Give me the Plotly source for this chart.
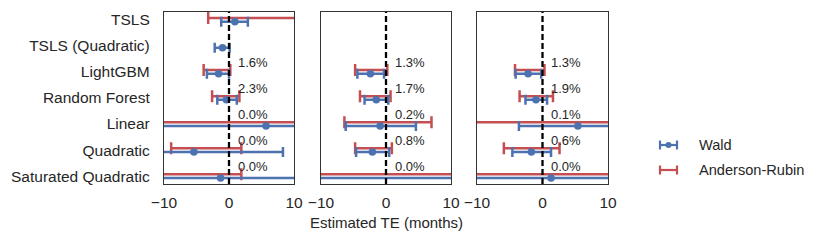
import plotly.graph_objects as go

W, H = 830, 243
OFFX, OFFY = 8, 8  # page body margin of the browser

methods = ["TSLS", "TSLS (Quadratic)", "LightGBM", "Random Forest",
           "Linear", "Quadratic", "Saturated Quadratic"]
rows = list(range(len(methods)))

# Panel 1
p1_wald_pt = [0.9, -1.0, -1.6, -0.4, 5.7, -5.4, -1.3]
p1_wald_lo = [-1.2, -2.2, -3.4, -1.8, -50, -50, -50]
p1_wald_hi = [2.9, 0.1, 0.0, 1.2, 50, 8.3, 50]
p1_ar_lo = [-3.2, None, -3.9, -2.6, -50, -8.9, -50]
p1_ar_hi = [50, None, 0.2, 1.6, 50, 1.9, 1.9]
p1_pct = [None, None, "1.6%", "2.3%", "0.0%", "0.0%", "0.0%"]

# Panel 2
p2_wald_pt = [None, None, -2.4, -1.5, -0.9, -2.1, 20]
p2_wald_lo = [None, None, -4.4, -3.3, -6.2, -4.6, -50]
p2_wald_hi = [None, None, -0.3, 0.35, 4.6, 0.5, 50]
p2_ar_lo = [None, None, -4.75, -4.0, -6.4, -4.75, -50]
p2_ar_hi = [None, None, 0.2, 0.7, 7.0, 0.9, 50]
p2_pct = [None, None, "1.3%", "1.7%", "0.2%", "0.8%", "0.0%"]

# Panel 3
p3_wald_pt = [None, None, -2.2, -1.0, 5.4, -1.7, 1.3]
p3_wald_lo = [None, None, -4.1, -2.6, -3.6, -4.6, -50]
p3_wald_hi = [None, None, -0.2, 0.7, 50, 1.3, 50]
p3_ar_lo = [None, None, -4.2, -3.5, -50, -5.9, -50]
p3_ar_hi = [None, None, 0.3, 1.6, 50, 2.6, 50]
p3_pct = [None, None, "1.3%", "1.9%", "0.1%", "0.6%", "0.0%"]

panels = [
    (p1_wald_pt, p1_wald_lo, p1_wald_hi, p1_ar_lo, p1_ar_hi, p1_pct),
    (p2_wald_pt, p2_wald_lo, p2_wald_hi, p2_ar_lo, p2_ar_hi, p2_pct),
    (p3_wald_pt, p3_wald_lo, p3_wald_hi, p3_ar_lo, p3_ar_hi, p3_pct),
]

x_ticks = [-10, 0, 10]
x_range = [-10, 10]

BLUE = "#4C72B0"
RED = "#C44E52"
TXT = "#262626"
FONT = "Arial, Liberation Sans, sans-serif"


def PX(px):
    return (px - OFFX) / W


def PY(py):
    return 1 - (py - OFFY) / H


x_domains_px = [(164, 294), (321, 451), (477, 608)]
y_dom = [PY(184), PY(12)]

fig = go.Figure()
OFF = 0.07

for i, (wp, wl, wh, al, ah, pct) in enumerate(panels):
    xa = "x" if i == 0 else f"x{i+1}"
    ya = "y" if i == 0 else f"y{i+1}"
    # Anderson-Rubin
    ax, ay, ap, am = [], [], [], []
    for r in rows:
        if al[r] is not None:
            ax.append(al[r]); ay.append(r - OFF)
            ap.append(ah[r] - al[r]); am.append(0)
    fig.add_trace(go.Scatter(
        x=ax, y=ay, mode="markers", xaxis=xa, yaxis=ya,
        marker=dict(size=1, opacity=0),
        error_x=dict(type="data", array=ap, arrayminus=am, symmetric=False,
                     color=RED, thickness=2.5, width=6),
        showlegend=False, hoverinfo="skip"))
    # Wald
    wx, wy, wpp, wm = [], [], [], []
    for r in rows:
        if wp[r] is not None:
            wx.append(wp[r]); wy.append(r + OFF)
            wpp.append(wh[r] - wp[r]); wm.append(wp[r] - wl[r])
    fig.add_trace(go.Scatter(
        x=wx, y=wy, mode="markers", xaxis=xa, yaxis=ya,
        marker=dict(size=7.5, color=BLUE),
        error_x=dict(type="data", array=wpp, arrayminus=wm, symmetric=False,
                     color=BLUE, thickness=2.5, width=5),
        showlegend=False, hoverinfo="skip"))
    # percentage labels
    for r in rows:
        if pct[r] is not None:
            fig.add_annotation(x=1.0, y=r - 0.36, xref=xa, yref=ya,
                               text=pct[r], showarrow=False, xanchor="left",
                               yanchor="middle",
                               font=dict(size=13, color=TXT, family=FONT))
    # zero line
    fig.add_shape(type="line", xref=xa, yref=f"{ya} domain", x0=0, x1=0,
                  y0=0, y1=1, layer="above",
                  line=dict(color="black", width=2.3, dash="6px,3px"))

    x0, x1 = x_domains_px[i]
    axkey = "xaxis" if i == 0 else f"xaxis{i+1}"
    aykey = "yaxis" if i == 0 else f"yaxis{i+1}"
    fig.update_layout(**{
        axkey: dict(domain=[PX(x0), PX(x1)], range=x_range, tickvals=x_ticks,
                    anchor=ya, showline=True, mirror=True, linecolor="#333",
                    linewidth=1.3, showgrid=False, zeroline=False, ticks="",
                    automargin=False, ticklabelstandoff=4,
                    tickfont=dict(size=15.5, color=TXT, family=FONT)),
        aykey: dict(domain=y_dom, range=[6.3, -0.3], tickvals=rows,
                    ticktext=methods, showticklabels=(i == 0), anchor=xa,
                    showline=True, mirror=True, linecolor="#333",
                    linewidth=1.3, showgrid=False, zeroline=False, ticks="",
                    automargin=False, ticklabelstandoff=10,
                    tickfont=dict(size=15.5, color=TXT, family=FONT)),
    })

# x-axis title
fig.add_annotation(x=PX(386), y=PY(222), xref="paper", yref="paper",
                   text="Estimated TE (months)", showarrow=False,
                   xanchor="center", yanchor="middle",
                   font=dict(size=15, color=TXT, family=FONT))

# Legend (manual)
def leg_item(yc, color, label, dot):
    yp = PY(yc)
    fig.add_shape(type="line", xref="paper", yref="paper",
                  x0=PX(660), x1=PX(677), y0=yp, y1=yp,
                  line=dict(color=color, width=2.2))
    for xx in (660, 677):
        fig.add_shape(type="line", xref="paper", yref="paper",
                      x0=PX(xx), x1=PX(xx), y0=yp - 4.5 / H, y1=yp + 4.5 / H,
                      line=dict(color=color, width=2.2))
    if dot:
        fig.add_shape(type="circle", xref="paper", yref="paper",
                      x0=PX(665.5), x1=PX(671.5), y0=yp - 3 / H, y1=yp + 3 / H,
                      fillcolor=color, line=dict(color=color, width=0))
    fig.add_annotation(x=PX(697), y=yp, xref="paper", yref="paper",
                       text=label, showarrow=False, xanchor="left",
                       yanchor="middle",
                       font=dict(size=14.6, color=TXT, family=FONT))

leg_item(145, BLUE, "Wald", True)
leg_item(170, RED, "Anderson-Rubin", False)

fig.update_layout(width=W, height=H, margin=dict(l=0, r=0, t=0, b=0),
                  paper_bgcolor="white", plot_bgcolor="white",
                  showlegend=False, font=dict(family=FONT))

fig.write_html("out.html")
